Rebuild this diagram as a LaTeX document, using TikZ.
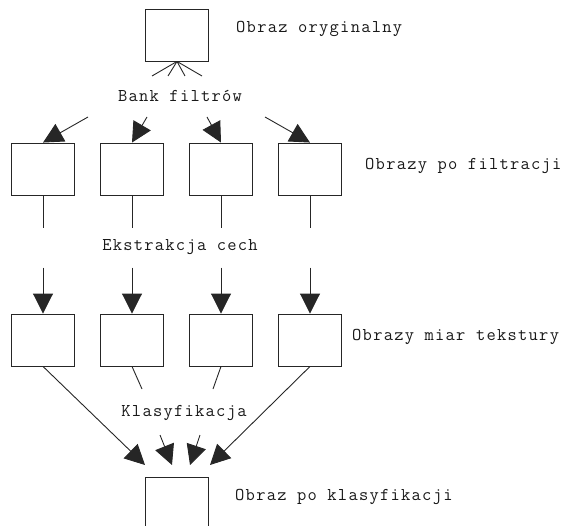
\documentclass[tikz,border=0pt]{standalone}
\usepackage{fontspec}
\newfontfamily\monofont{Latin Modern Mono}[LetterSpace=7]
\usetikzlibrary{calc,positioning,arrows.meta}

\begin{document}
\begin{tikzpicture}[
  x = 1pt, y = 1pt,
  node distance = 89pt,
  img/.style   = {rectangle, draw=black!85, line width=0.9pt, minimum width=63pt, minimum height=52pt, inner sep=0pt},
  stage/.style = {font=\monofont\fontsize{18}{20}\selectfont, text=black!90, inner sep=0pt},
  side/.style  = {font=\monofont\fontsize{18}{20}\selectfont, text=black!90, anchor=west, inner sep=0pt},
  link/.style  = {draw=black!85, line width=0.9pt},
  feed/.style  = {draw=black!85, line width=0.9pt, -{Triangle[width=20pt,length=20pt]}},
  ]
  \useasboundingbox (0,0) rectangle (572,-526);
  % original image and filter bank
  \node[img] (orig) at (177,-35) {};
  \node[side] (lorig) at (236,-29) {Obraz oryginalny};
  \node[stage] (bank) at (180,-96) {Bank filtrów};
  \coordinate (b1) at (152,-76);
  \coordinate (b2) at (168,-76);
  \coordinate (b3) at (185,-76);
  \coordinate (b4) at (202,-76);
  \draw[link] (orig.south) -- (b1);
  \draw[link] (orig.south) -- (b2);
  \draw[link] (orig.south) -- (b3);
  \draw[link] (orig.south) -- (b4);
  % filtered images
  \node[img] (f1) at (43,-169) {};
  \node[img, right of=f1] (f2) {};
  \node[img, right of=f2] (f3) {};
  \node[img, right of=f3] (f4) {};
  \node[side] (lfilt) at (365,-166) {Obrazy po filtracji};
  \coordinate (s1) at (88,-117);
  \coordinate (s2) at (147,-117);
  \coordinate (s3) at (207,-117);
  \coordinate (s4) at (265,-117);
  \draw[feed] (s1) -- (f1.north);
  \draw[feed] (s2) -- (f2.north);
  \draw[feed] (s3) -- (f3.north);
  \draw[feed] (s4) -- (f4.north);
  % feature extraction
  \node[stage] (extr) at (180,-247) {Ekstrakcja cech};
  \draw[link] (f1.south) -- ($(f1.south)+(0,-33)$);
  \draw[link] (f2.south) -- ($(f2.south)+(0,-33)$);
  \draw[link] (f3.south) -- ($(f3.south)+(0,-33)$);
  \draw[link] (f4.south) -- ($(f4.south)+(0,-33)$);
  % texture measure images
  \node[img, below of=f1, node distance=171pt] (m1) {};
  \node[img, right of=m1] (m2) {};
  \node[img, right of=m2] (m3) {};
  \node[img, right of=m3] (m4) {};
  \node[side] (lmeas) at (352,-337) {Obrazy miar tekstury};
  \draw[feed] ($(m1.north)+(0,46)$) -- (m1.north);
  \draw[feed] ($(m2.north)+(0,46)$) -- (m2.north);
  \draw[feed] ($(m3.north)+(0,46)$) -- (m3.north);
  \draw[feed] ($(m4.north)+(0,46)$) -- (m4.north);
  % classification
  \node[stage] (klas) at (184,-413) {Klasyfikacja};
  \node[img] (out) at (177,-503) {};
  \node[side] (lout) at (235,-497) {Obraz po klasyfikacji};
  \coordinate (k2) at (142,-389);
  \coordinate (k3) at (213,-389);
  \coordinate (t1) at (145,-465);
  \coordinate (t2) at (172,-465);
  \coordinate (t3) at (190,-465);
  \coordinate (t4) at (210,-465);
  \draw[link] (m2.south) -- (k2);
  \draw[link] (m3.south) -- (k3);
  \draw[feed] (m1.south) -- (t1);
  \draw[feed] (160,-435) -- (t2);
  \draw[feed] (200,-435) -- (t3);
  \draw[feed] (m4.south) -- (t4);
\end{tikzpicture}
\end{document}
